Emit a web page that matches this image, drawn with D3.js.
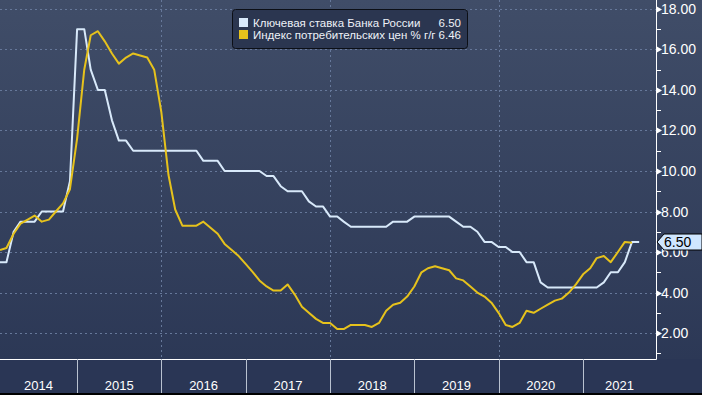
<!DOCTYPE html>
<html lang="ru">
<head>
    <meta charset="UTF-8">
    <title>Ключевая ставка и инфляция</title>
    <style>
        body { margin: 0; padding: 0; background: #2a3655; }
        svg { display: block; }
        .grid line { stroke: #66789a; stroke-width: 1; stroke-dasharray: 2,3; }
        .tick-label { font-family: "Liberation Sans", Arial, sans-serif; font-size: 14px; fill: #ffffff; }
        .year-label { font-family: "Liberation Sans", Arial, sans-serif; font-size: 13px; fill: #ffffff; }
        .legend text { font-family: "Liberation Sans", Arial, sans-serif; font-size: 11.5px; fill: #eef2f8; }
    </style>
</head>
<body>
<svg id="chart" width="702" height="395"></svg>
<script src="https://d3js.org/d3.v7.min.js"></script>
<script>
// monthly data from Jan 2014, value at month end
const startMonth = new Date(2014, 0, 1);

const keyRate = [
    5.5, 5.5, 7.0, 7.5, 7.5, 7.5, 8.0, 8.0, 8.0, 8.0, 9.5, 17.0,        // 2014
    17.0, 15.0, 14.0, 14.0, 12.5, 11.5, 11.5, 11.0, 11.0, 11.0, 11.0, 11.0, // 2015
    11.0, 11.0, 11.0, 11.0, 11.0, 10.5, 10.5, 10.5, 10.0, 10.0, 10.0, 10.0, // 2016
    10.0, 10.0, 9.75, 9.75, 9.25, 9.0, 9.0, 9.0, 8.5, 8.25, 8.25, 7.75,     // 2017
    7.75, 7.5, 7.25, 7.25, 7.25, 7.25, 7.25, 7.25, 7.5, 7.5, 7.5, 7.75,     // 2018
    7.75, 7.75, 7.75, 7.75, 7.75, 7.5, 7.25, 7.25, 7.0, 6.5, 6.5, 6.25,     // 2019
    6.25, 6.0, 6.0, 5.5, 5.5, 4.5, 4.25, 4.25, 4.25, 4.25, 4.25, 4.25,      // 2020
    4.25, 4.25, 4.5, 5.0, 5.0, 5.5, 6.5, 6.5                                // 2021
];

const cpi = [
    6.1, 6.2, 6.9, 7.4, 7.6, 7.8, 7.5, 7.6, 8.0, 8.4, 9.1, 11.6,    // 2014
    15.0, 16.7, 16.9, 16.4, 15.8, 15.3, 15.6, 15.8, 15.7, 15.6, 15.0, 12.9, // 2015
    9.8, 8.1, 7.3, 7.3, 7.3, 7.5, 7.2, 6.9, 6.4, 6.1, 5.8, 5.4,     // 2016
    5.0, 4.6, 4.3, 4.1, 4.1, 4.4, 3.9, 3.3, 3.0, 2.7, 2.5, 2.5,     // 2017
    2.2, 2.2, 2.4, 2.4, 2.4, 2.3, 2.5, 3.1, 3.4, 3.5, 3.8, 4.3,     // 2018
    5.0, 5.2, 5.3, 5.2, 5.1, 4.7, 4.6, 4.3, 4.0, 3.8, 3.5, 3.0,     // 2019
    2.4, 2.3, 2.5, 3.1, 3.0, 3.2, 3.4, 3.6, 3.7, 4.0, 4.4, 4.9,     // 2020
    5.2, 5.7, 5.8, 5.5, 6.0, 6.5, 6.46                              // 2021
];

const years = [2014, 2015, 2016, 2017, 2018, 2019, 2020, 2021];
const gridYears = [2016, 2018, 2020];
const yTicks = [2, 4, 6, 8, 10, 12, 14, 16, 18];
const yMinorTicks = [1, 3, 5, 7, 9, 11, 13, 15, 17];

const seriesNames = ["Ключевая ставка Банка России", "Индекс потребительских цен % г/г"];
const seriesLast = ["6.50", "6.46"];
const seriesColors = ["#d8e9fa", "#e6c21c"];

const svg = d3.select("#chart");
const W = 702, H = 395;
const plotW = 656, plotH = 359;

const defs = svg.append("defs");
const grad = defs.append("linearGradient").attr("id", "bg").attr("x1", 0).attr("y1", 0).attr("x2", 0).attr("y2", 1);
grad.append("stop").attr("offset", "0%").attr("stop-color", "#404d68");
grad.append("stop").attr("offset", "100%").attr("stop-color", "#2a3654");

svg.append("rect").attr("width", W).attr("height", H).attr("fill", "url(#bg)");
svg.append("rect").attr("y", plotH).attr("width", W).attr("height", H - plotH).attr("fill", "#2a3655");

const x = d3.scaleTime()
    .domain([new Date(2014, 1, 1), new Date(2021, 10, 13)])
    .range([0, plotW]);
const y = d3.scaleLinear()
    .domain([0.72, 18.44])
    .range([plotH, 0]);

const dateAt = i => d3.timeMonth.offset(startMonth, i + 1);

// gridlines
const grid = svg.append("g").attr("class", "grid");
grid.selectAll(".h").data(yTicks).enter().append("line")
    .attr("x1", 0).attr("x2", plotW)
    .attr("y1", d => Math.round(y(d)) + 0.5).attr("y2", d => Math.round(y(d)) + 0.5);
grid.selectAll(".v").data(gridYears).enter().append("line")
    .attr("x1", d => Math.round(x(new Date(d, 0, 1))) + 0.5)
    .attr("x2", d => Math.round(x(new Date(d, 0, 1))) + 0.5)
    .attr("y1", 0).attr("y2", plotH);

// lines
const line = d3.line()
    .x((d, i) => x(dateAt(i)))
    .y(d => y(d));

[keyRate, cpi].forEach((s, k) => {
    svg.append("path")
        .datum(s)
        .attr("fill", "none")
        .attr("stroke", seriesColors[k])
        .attr("stroke-width", 2)
        .attr("stroke-linejoin", "round")
        .attr("d", line);
});

// axis frame
svg.append("line").attr("x1", 0).attr("x2", plotW + 0.5).attr("y1", plotH + 0.5).attr("y2", plotH + 0.5)
    .attr("stroke", "#ffffff").attr("stroke-width", 1);
svg.append("line").attr("x1", plotW + 0.5).attr("x2", plotW + 0.5).attr("y1", 0).attr("y2", plotH + 0.5)
    .attr("stroke", "#ffffff").attr("stroke-width", 1);

// right axis ticks
const ax = svg.append("g");
ax.selectAll(".maj").data(yTicks).enter().append("path")
    .attr("d", d => {
        const yy = Math.round(y(d)) + 0.5;
        return `M${plotW},${yy - 3.5}L${plotW + 6},${yy}L${plotW},${yy + 3.5}Z`;
    })
    .attr("fill", "#ffffff");
ax.selectAll(".min").data(yMinorTicks).enter().append("line")
    .attr("x1", plotW).attr("x2", plotW + 5)
    .attr("y1", d => Math.round(y(d)) + 0.5).attr("y2", d => Math.round(y(d)) + 0.5)
    .attr("stroke", "#ffffff");
ax.selectAll("text").data(yTicks).enter().append("text")
    .attr("class", "tick-label")
    .attr("x", 661)
    .attr("y", d => y(d) + 5)
    .text(d => d3.format(".2f")(d));

// bottom year labels and separators
const bottom = svg.append("g");
bottom.selectAll("line").data(years.slice(1)).enter().append("line")
    .attr("x1", d => Math.round(x(new Date(d, 0, 1))) + 0.5)
    .attr("x2", d => Math.round(x(new Date(d, 0, 1))) + 0.5)
    .attr("y1", plotH).attr("y2", H - 2)
    .attr("stroke", "#b9c2d0").attr("stroke-width", 1);
bottom.selectAll("text").data(years).enter().append("text")
    .attr("class", "year-label")
    .attr("text-anchor", "middle")
    .attr("x", d => {
        const a = Math.max(0, x(new Date(d, 0, 1)));
        const b = Math.min(plotW, x(new Date(d + 1, 0, 1)));
        return (a + b) / 2;
    })
    .attr("y", 390)
    .text(d => d);
svg.append("line").attr("x1", 0).attr("x2", W).attr("y1", H - 1).attr("y2", H - 1)
    .attr("stroke", "#000000").attr("stroke-width", 2);

// last value tag
const tagY = Math.round(y(keyRate[keyRate.length - 1]));
svg.append("path")
    .attr("d", `M${plotW + 1},${tagY}L${plotW + 8},${tagY - 8}L${W},${tagY - 8}L${W},${tagY + 8}L${plotW + 8},${tagY + 8}Z`)
    .attr("fill", "#cfe6ff").attr("stroke", "#000000").attr("stroke-width", 1);
svg.append("text")
    .attr("class", "tick-label")
    .attr("x", 664).attr("y", tagY + 5)
    .style("fill", "#000000")
    .text(seriesLast[0]);

// legend
const lg = svg.append("g").attr("class", "legend");
lg.append("rect")
    .attr("x", 232.5).attr("y", 9.5).attr("width", 235).attr("height", 39).attr("rx", 3)
    .attr("fill", "#2b3650").attr("stroke", "#0c0f16").attr("stroke-width", 1);
seriesNames.forEach((name, i) => {
    const ry = 18 + i * 12;
    lg.append("rect").attr("x", 239).attr("y", ry).attr("width", 9).attr("height", 9)
        .attr("fill", seriesColors[i]);
    lg.append("text").attr("x", 253).attr("y", ry + 9).text(name);
    lg.append("text").attr("x", 461).attr("y", ry + 9).attr("text-anchor", "end").text(seriesLast[i]);
});
</script>
</body>
</html>
